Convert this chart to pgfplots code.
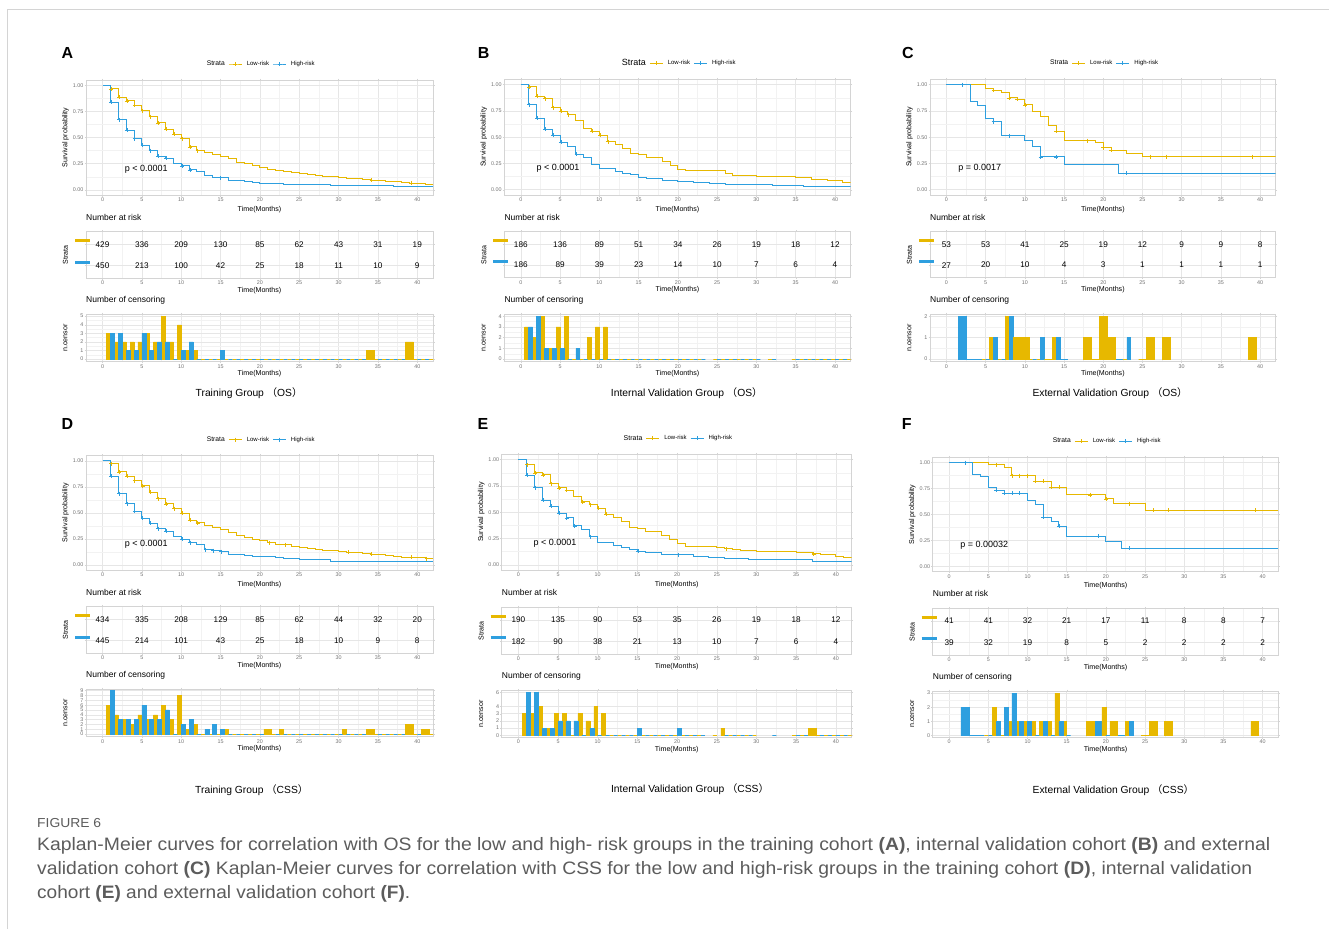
\documentclass[border=0pt]{standalone}
\usepackage{fontspec}
\setmainfont{Liberation Sans}
\newfontfamily\cjk{Noto Sans CJK SC}
\usepackage{graphicx}
\usepackage{pgfplots}
\pgfplotsset{compat=1.18}
\definecolor{yc}{HTML}{E7B800}
\definecolor{bc}{HTML}{2E9FDF}
\definecolor{bord}{HTML}{D4D4D4}
\definecolor{gmaj}{HTML}{E6E6E6}
\definecolor{gmin}{HTML}{F2F2F2}
\definecolor{capc}{HTML}{5C5C5C}
\newcommand{\fs}[1]{\fontsize{#1}{#1}\selectfont}
\pgfplotsset{
  ggbase/.style={
    scale only axis, anchor=north west,
    axis line style={draw=bord, line width=0.6pt},
    grid=both,
    major grid style={draw=gmaj, line width=0.5pt},
    minor grid style={draw=gmin, line width=0.35pt},
    tick align=outside, major tick length=1.5pt, minor tick length=0pt,
    major tick style={draw=bord, line width=0.4pt},
    /pgf/number format/assume math mode=true,
    tick label style={font=\fs{5.4}, text opacity=0.55},
    xticklabel style={inner sep=1pt},
    yticklabel style={inner sep=1pt},
    xmin=-2.1, xmax=42,
    xtick={0,5,...,40}, minor xtick={2.5,7.5,...,42.5},
    xlabel={Time(Months)},
    label style={font=\fs{7.1}},
    ylabel style={at={([xshift=-20.5pt]axis description cs:0,0.5)}, anchor=center},
  },
  km/.style={ggbase,
    ymin=-0.05, ymax=1.05,
    ytick={0,0.25,0.5,0.75,1}, yticklabels={0.00,0.25,0.50,0.75,1.00},
    minor ytick={0.125,0.375,0.625,0.875},
    ylabel={Survival probability},
    xlabel style={at={([yshift=-14.3pt]axis description cs:0.5,0)}, anchor=center},
    legend columns=-1,
    legend image code/.code={\draw[mark repeat=2,mark phase=2,##1] plot coordinates {(0pt,0pt) (6.5pt,0pt) (13pt,0pt)};},
    legend style={at={([yshift=16pt]axis description cs:0.5,1)}, anchor=center, fill=none, draw=none, inner sep=0pt, font=\fs{6},
      /tikz/every even column/.append style={column sep=1.5pt},
      /tikz/every odd column/.append style={column sep=2.5pt}},
  },
  risk/.style={ggbase,
    clip=false,
    ymin=0.4, ymax=2.6, ytick={1,2},
    yticklabels={,,},
    ylabel={Strata},
    xlabel style={at={([yshift=-12.4pt]axis description cs:0.5,0)}, anchor=center},
    title={Number at risk},
    title style={at={([yshift=8.4pt]axis description cs:0,1)}, anchor=west, inner sep=0pt, font=\fs{8.5}},
  },
  cens/.style={ggbase,
    minor y tick num=1,
    ylabel={n.censor},
    xlabel style={at={([yshift=-12.3pt]axis description cs:0.5,0)}, anchor=center},
    title={Number of censoring},
    title style={at={([yshift=8pt]axis description cs:0,1)}, anchor=west, inner sep=0pt, font=\fs{8.5}},
  },
}
\newcommand{\kmY}[1]{\addplot[const plot, draw=yc, line width=0.9pt, forget plot] coordinates {#1};}
\newcommand{\kmB}[1]{\addplot[const plot, draw=bc, line width=0.9pt, forget plot] coordinates {#1};}
\newcommand{\mkY}[1]{\addplot[only marks, mark=+, mark size=2pt, draw=yc, line width=0.6pt, forget plot] coordinates {#1};}
\newcommand{\mkB}[1]{\addplot[only marks, mark=+, mark size=2pt, draw=bc, line width=0.6pt, forget plot] coordinates {#1};}
\newcommand{\cb}[3]{\addplot[ybar, bar width=#1, bar shift=0pt, fill=#2, draw=#2, line width=0.5pt, forget plot] coordinates {#3};}
\newcommand{\rk}[1]{\addplot[draw=none, mark=none, forget plot, nodes near coords, point meta=explicit symbolic, nodes near coords align={center}, every node near coord/.append style={font=\fs{8.2}, inner sep=0pt}] coordinates {#1};
 \draw[draw=yc, line width=3pt] ([xshift=-11pt,yshift=3.5pt]axis cs:-2.1,2) -- ([xshift=4pt,yshift=3.5pt]axis cs:-2.1,2);
 \draw[draw=bc, line width=3pt] ([xshift=-11pt,yshift=3.5pt]axis cs:-2.1,1) -- ([xshift=4pt,yshift=3.5pt]axis cs:-2.1,1);}
\newcommand{\leg}[2]{\addlegendimage{empty legend}\addlegendentry{\fs{#1}Strata}%
 \addlegendimage{draw=yc, line width=0.9pt, mark=+, mark size=2pt}\addlegendentry{\fs{#2}Low-risk}%
 \addlegendimage{draw=bc, line width=0.9pt, mark=+, mark size=2pt}\addlegendentry{\fs{#2}High-risk}}
\newcommand{\pv}[3]{\node[anchor=west, font=\fs{9}, inner sep=0pt] at (axis cs:#1,#2) {#3};}
\begin{document}
\begin{tikzpicture}
\useasboundingbox (0,0) rectangle (1329pt,-929pt);
\fill[fill=white] (0,0) rectangle (1329pt,-929pt);
\draw[draw=bord, line width=0.8pt] (7.5pt,-929pt) -- (7.5pt,-9.7pt) -- (1329pt,-9.7pt);
% panel letters
\foreach \l/\x/\y in {A/67.5/52.5, B/483.7/52.5, C/907.8/52.5, D/67.5/424, E/483/424, F/906.7/424}
  \node[font=\fs{16}\bfseries] at (\x pt,-\y pt) {\l};
% ================= F =================
\begin{axis}[km, at={(932.7pt,-457.3pt)}, width=345.6pt, height=114.4pt]
\leg{6.75}{6}
\kmY{(0,1) (5,0.978) (7,0.952) (8,0.873) (11,0.819) (13,0.762) (15,0.689) (20,0.65) (21,0.603) (25,0.543) (42,0.543)}
\kmB{(0,1) (3,0.889) (4,0.87) (5,0.756) (6,0.733) (7,0.705) (10,0.635) (11,0.594) (12,0.476) (13,0.429) (14,0.387) (15,0.292) (20,0.238) (22,0.175) (42,0.175)}
\mkY{(6,0.978) (8,0.873) (9,0.873) (10,0.873) (11,0.819) (12,0.819) (13,0.762) (14,0.762) (18,0.689) (20,0.65) (23,0.603) (26,0.543) (28,0.543) (39,0.543)}
\mkB{(2,1) (6,0.733) (7,0.705) (8,0.705) (9,0.705) (12,0.476) (14,0.387) (19,0.292) (23,0.175)}
\pv{1.4}{0.2}{p = 0.00032}
\end{axis}
\begin{axis}[risk, at={(932.7pt,-608.3pt)}, width=345.6pt, height=46.7pt]
\rk{(0,2)[41] (5,2)[41] (10,2)[32] (15,2)[21] (20,2)[17] (25,2)[11] (30,2)[8] (35,2)[8] (40,2)[7]
(0,1)[39] (5,1)[32] (10,1)[19] (15,1)[8] (20,1)[5] (25,1)[2] (30,1)[2] (35,1)[2] (40,1)[2]}
\end{axis}
\begin{axis}[cens, at={(932.7pt,-691pt)}, width=345.6pt, height=46.3pt, ymin=-0.12, ymax=3.15, ytick={0,1,2,3}]
\cb{1}{bc}{(2,2)(3,0)(4,0)(19,1)(22,0)}
\cb{0.5}{yc}{(4.75,0)(5.75,2)(6.75,0)(7.75,1)(8.75,1)(9.75,1)(10.75,1)(11.75,1)(12.75,1)(13.75,3)(14.75,1)(19.75,2)(22.75,1)}
\cb{0.5}{bc}{(5.25,0)(6.25,1)(7.25,2)(8.25,3)(9.25,1)(10.25,1)(11.25,0)(12.25,1)(13.25,0)(14.25,1)(15.25,0)(20.25,0)(23.25,1)}
\cb{1}{yc}{(18,1)(21,1)(25,0)(26,1)(28,1)(39,1)}
\end{axis}
% ================= E =================
\begin{axis}[km, at={(501.7pt,-454.3pt)}, width=350pt, height=115.7pt]
\leg{7}{6}
\kmY{(0,1) (1,0.953) (2,0.873) (3,0.854) (4,0.772) (5,0.731) (6,0.709) (7,0.646) (8,0.598) (9,0.57) (10,0.538) (11,0.48) (12,0.45) (13,0.415) (14,0.358) (15,0.348) (16,0.32) (18,0.28) (19,0.237) (20,0.20) (21,0.177) (25,0.168) (26,0.152) (27,0.142) (28,0.136) (30,0.13) (35,0.114) (37,0.104) (38,0.095) (40,0.082) (41,0.066) (42,0.066)}
\kmB{(0,1) (1,0.85) (2,0.734) (3,0.614) (4,0.554) (5,0.49) (6,0.446) (7,0.37) (8,0.332) (9,0.266) (10,0.215) (11,0.209) (12,0.187) (13,0.165) (14,0.146) (15,0.127) (16,0.117) (18,0.10) (20,0.095) (22,0.082) (24,0.07) (26,0.06) (29,0.054) (32,0.047) (37,0.035) (42,0.035)}
\mkY{(1.1,0.953) (2.1,0.873) (3.1,0.854) (4.1,0.772) (5.1,0.731) (6.1,0.709) (8.1,0.598) (9.1,0.57) (10.1,0.538) (11.1,0.48) (26.2,0.152) (37.2,0.104)}
\mkB{(1.1,0.85) (2.1,0.734) (3.1,0.614) (4.1,0.554) (5.1,0.49) (6.1,0.446) (7.1,0.37) (9.1,0.266) (15.1,0.127) (20.2,0.095)}
\pv{1.9}{0.2}{p < 0.0001}
\end{axis}
\begin{axis}[risk, at={(501.7pt,-607.3pt)}, width=350pt, height=47pt]
\rk{(0,2)[190] (5,2)[135] (10,2)[90] (15,2)[53] (20,2)[35] (25,2)[26] (30,2)[19] (35,2)[18] (40,2)[12]
(0,1)[182] (5,1)[90] (10,1)[38] (15,1)[21] (20,1)[13] (25,1)[10] (30,1)[7] (35,1)[6] (40,1)[4]}
\end{axis}
\begin{axis}[cens, at={(501.7pt,-690.7pt)}, width=350pt, height=46.6pt, ymin=-0.28, ymax=6.2, ytick={0,1,2,3,4,6}]
\cb{0.5}{yc}{(0.75,3)(1.75,3)(2.75,4)(3.75,1)(4.75,3)(5.75,3)(6.75,0)(7.75,3)(8.75,2)(9.75,4)(10.75,3)(11.75,0)(12.75,0)(13.75,0)(14.75,0)(15.75,0)(16.75,0)(17.75,0)(18.75,0)(19.75,0)(20.75,0)(21.75,0)(22.75,0)(24.75,0)(25.75,1)(26.75,0)(27.75,0)(28.75,0)(29.75,0)(34.75,0)(35.75,0)(37.75,0)(38.75,0)(39.75,0)(40.75,0)(41.75,0)}
\cb{0.5}{bc}{(1.25,6)(2.25,6)(3.25,1)(4.25,1)(5.25,2)(6.25,2)(7.25,2)(8.25,0)(9.25,1)(10.25,0)(11.25,0)(12.25,0)(13.25,0)(14.25,0)(15.25,1)(16.25,0)(17.25,0)(18.25,0)(19.25,0)(20.25,1)(21.25,0)(22.25,0)(23.25,0)(26.25,0)(27.25,0)(28.25,0)(29.25,0)(32.25,0)(35.25,0)(36.25,0)(38.25,0)(39.25,0)(40.25,0)(41.25,0)}
\cb{1}{yc}{(37,1)}
\end{axis}
% ================= D =================
\begin{axis}[km, at={(86pt,-455.7pt)}, width=347pt, height=114.3pt]
\leg{6.75}{6}
\kmY{(0,1) (1,0.975) (2,0.895) (3,0.85) (4,0.81) (5,0.76) (6,0.70) (7,0.637) (8,0.586) (9,0.54) (10,0.496) (11,0.43) (12,0.404) (13,0.376) (14,0.357) (15,0.344) (16,0.315) (17,0.28) (18,0.264) (19,0.245) (20,0.23) (21,0.213) (22,0.20) (23,0.194) (24,0.18) (25,0.17) (26,0.16) (27,0.15) (28,0.14) (29,0.134) (30,0.127) (31,0.12) (33,0.11) (34,0.10) (35,0.096) (36,0.09) (37,0.08) (38,0.073) (40,0.067) (41,0.06) (42,0.06)}
\kmB{(0,1) (1,0.85) (2,0.685) (3,0.59) (4,0.516) (5,0.45) (6,0.40) (7,0.347) (8,0.325) (9,0.274) (10,0.245) (11,0.213) (12,0.194) (13,0.146) (14,0.137) (15,0.127) (16,0.099) (18,0.092) (19,0.08) (20,0.076) (22,0.067) (23,0.06) (25,0.054) (29,0.035) (36,0.029) (42,0.029)}
\mkY{(1.1,0.975) (2.1,0.895) (3.1,0.85) (4.1,0.81) (5.1,0.76) (6.1,0.70) (7.1,0.637) (8.1,0.586) (9.1,0.54) (10.1,0.496) (11.1,0.43) (12.1,0.404) (21.2,0.213) (23.2,0.194) (31.2,0.12) (34.2,0.10) (39.2,0.073) (41.2,0.06)}
\mkB{(1.1,0.85) (2.1,0.685) (3.1,0.59) (4.1,0.516) (5.1,0.45) (6.1,0.40) (7.1,0.347) (8.1,0.325) (10.1,0.245) (11.1,0.213) (13.1,0.146) (14.1,0.137) (15.1,0.127)}
\pv{2.8}{0.2}{p < 0.0001}
\end{axis}
\begin{axis}[risk, at={(86pt,-606.7pt)}, width=347pt, height=46.6pt]
\rk{(0,2)[434] (5,2)[335] (10,2)[208] (15,2)[129] (20,2)[85] (25,2)[62] (30,2)[44] (35,2)[32] (40,2)[20]
(0,1)[445] (5,1)[214] (10,1)[101] (15,1)[43] (20,1)[25] (25,1)[18] (30,1)[10] (35,1)[9] (40,1)[8]}
\end{axis}
\begin{axis}[cens, at={(86pt,-689pt)}, width=347pt, height=47.7pt, ymin=-0.55, ymax=9.35, ytick={0,1,2,3,4,5,6,7,8,9}, minor y tick num=0]
\cb{0.5}{yc}{(0.75,6)(1.75,4)(2.75,3)(3.75,2)(4.75,4)(5.75,3)(6.75,4)(7.75,6)(8.75,3)(9.75,8)(10.75,1)(11.75,2)(12.75,0)(13.75,0)(14.75,0)(15.75,1)(16.75,0)(17.75,0)(18.75,0)(19.75,0)(21.75,0)(22.75,1)(23.75,0)(24.75,0)(25.75,0)(26.75,0)(27.75,0)(28.75,0)(29.75,0)(30.75,1)(31.75,0)(32.75,0)(34.75,0)(35.75,0)(36.75,0)(37.75,0)(39.75,0)(41.75,0)}
\cb{0.5}{bc}{(1.25,9)(2.25,3)(3.25,3)(4.25,3)(5.25,6)(6.25,3)(7.25,3)(8.25,5)(9.25,0)(10.25,2)(11.25,3)(12.25,0)(13.25,1)(14.25,2)(15.25,1)(16.25,0)(17.25,0)(18.25,0)(19.25,0)(20.25,0)(22.25,0)(23.25,0)(24.25,0)(25.25,0)(26.25,0)(27.25,0)(28.25,0)(29.25,0)(30.25,0)(31.25,0)(32.25,0)(33.25,0)(35.25,0)(36.25,0)(37.25,0)(38.25,0)(40.25,0)}
\cb{1}{yc}{(21,1)(34,1)(39,2)(41,1)}
\end{axis}
% ================= A =================
\begin{axis}[km, at={(86pt,-80pt)}, width=347pt, height=115pt]
\leg{6.75}{6}
\kmY{(0,1) (1,0.965) (2,0.886) (3,0.85) (4,0.807) (5,0.756) (6,0.70) (7,0.64) (8,0.58) (9,0.53) (10,0.49) (11,0.41) (12,0.375) (13,0.355) (14,0.34) (15,0.32) (16,0.30) (17,0.265) (18,0.25) (19,0.235) (20,0.21) (21,0.195) (22,0.185) (23,0.178) (24,0.168) (25,0.158) (26,0.145) (27,0.135) (28,0.13) (29,0.123) (30,0.117) (31,0.11) (32,0.105) (33,0.10) (34,0.093) (35,0.088) (36,0.082) (37,0.075) (38,0.07) (39,0.065) (40,0.058) (41,0.052) (42,0.052)}
\kmB{(0,1) (1,0.84) (2,0.67) (3,0.57) (4,0.49) (5,0.425) (6,0.375) (7,0.32) (8,0.30) (9,0.25) (10,0.228) (11,0.19) (12,0.175) (13,0.133) (14,0.117) (16,0.085) (18,0.076) (19,0.07) (20,0.063) (22,0.057) (23,0.05) (25,0.047) (29,0.038) (37,0.03) (42,0.03)}
\mkY{(1.1,0.965) (2.1,0.886) (3.1,0.85) (4.1,0.807) (5.1,0.756) (6.1,0.70) (7.1,0.64) (8.1,0.58) (9.1,0.53) (10.1,0.49) (11.1,0.41) (12.1,0.375) (34.2,0.093) (39.2,0.065)}
\mkB{(1.1,0.84) (2.1,0.67) (3.1,0.57) (4.1,0.49) (5.1,0.425) (6.1,0.375) (7.1,0.32) (8.1,0.30) (10.1,0.228) (11.1,0.19) (15,0.117)}
\pv{2.8}{0.2}{p < 0.0001}
\end{axis}
\begin{axis}[risk, at={(86pt,-231.7pt)}, width=347pt, height=46.6pt]
\rk{(0,2)[429] (5,2)[336] (10,2)[209] (15,2)[130] (20,2)[85] (25,2)[62] (30,2)[43] (35,2)[31] (40,2)[19]
(0,1)[450] (5,1)[213] (10,1)[100] (15,1)[42] (20,1)[25] (25,1)[18] (30,1)[11] (35,1)[10] (40,1)[9]}
\end{axis}
\begin{axis}[cens, at={(86pt,-314pt)}, width=347pt, height=47.7pt, ymin=-0.3, ymax=5.25, ytick={0,1,2,3,4,5}]
\cb{0.5}{yc}{(0.75,3)(1.75,2)(2.75,2)(3.75,2)(4.75,2)(5.75,3)(6.75,2)(7.75,5)(8.75,2)(9.75,4)(10.75,1)(11.75,1)(12.75,0)(13.75,0)(14.75,0)(15.75,0)(16.75,0)(17.75,0)(18.75,0)(19.75,0)(20.75,0)(21.75,0)(22.75,0)(23.75,0)(24.75,0)(25.75,0)(26.75,0)(27.75,0)(28.75,0)(29.75,0)(30.75,0)(31.75,0)(32.75,0)(34.75,0)(35.75,0)(36.75,0)(37.75,0)(39.75,0)(40.75,0)(41.75,0)}
\cb{0.5}{bc}{(1.25,3)(2.25,3)(3.25,1)(4.25,1)(5.25,3)(6.25,1)(7.25,2)(8.25,2)(9.25,0)(10.25,1)(11.25,2)(12.25,0)(13.25,0)(14.25,0)(15.25,1)(16.25,0)(17.25,0)(18.25,0)(19.25,0)(20.25,0)(21.25,0)(22.25,0)(23.25,0)(24.25,0)(25.25,0)(26.25,0)(27.25,0)(28.25,0)(29.25,0)(30.25,0)(31.25,0)(32.25,0)(33.25,0)(35.25,0)(36.25,0)(37.25,0)(38.25,0)(40.25,0)(41.25,0)}
\cb{1}{yc}{(34,1)(39,2)}
\end{axis}
% ================= B =================
\begin{axis}[km, at={(504.3pt,-79.3pt)}, width=346.4pt, height=115.7pt]
\leg{9}{6}
\kmY{(0,1) (1,0.978) (2,0.89) (3,0.867) (4,0.78) (5,0.747) (6,0.715) (7,0.655) (8,0.585) (9,0.554) (10,0.516) (11,0.456) (12,0.434) (13,0.396) (14,0.345) (15,0.332) (16,0.31) (17,0.304) (18,0.27) (19,0.234) (20,0.196) (21,0.18) (26,0.152) (27,0.14) (28,0.133) (30,0.127) (35,0.114) (37,0.10) (39,0.089) (41,0.07) (42,0.07)}
\kmB{(0,1) (1,0.81) (2,0.68) (3,0.576) (4,0.52) (5,0.45) (6,0.41) (7,0.34) (8,0.304) (9,0.237) (10,0.203) (12,0.174) (13,0.158) (14,0.142) (15,0.12) (16,0.11) (18,0.089) (20,0.076) (22,0.066) (24,0.06) (26,0.054) (29,0.047) (32,0.044) (36,0.032) (42,0.032)}
\mkY{(1.1,0.978) (2.1,0.89) (3.1,0.867) (4.1,0.78) (5.1,0.747) (6.1,0.715) (9.1,0.554) (10.1,0.516) (11.1,0.456)}
\mkB{(1.1,0.81) (2.1,0.68) (3.1,0.576) (4.1,0.52) (5.1,0.45) (7.1,0.34)}
\pv{2.0}{0.2}{p < 0.0001}
\end{axis}
\begin{axis}[risk, at={(504.3pt,-231.7pt)}, width=346.4pt, height=46pt]
\rk{(0,2)[186] (5,2)[136] (10,2)[89] (15,2)[51] (20,2)[34] (25,2)[26] (30,2)[19] (35,2)[18] (40,2)[12]
(0,1)[186] (5,1)[89] (10,1)[39] (15,1)[23] (20,1)[14] (25,1)[10] (30,1)[7] (35,1)[6] (40,1)[4]}
\end{axis}
\begin{axis}[cens, at={(504.3pt,-314pt)}, width=346.4pt, height=47.7pt, ymin=-0.24, ymax=4.2, ytick={0,1,2,3,4}]
\cb{0.5}{yc}{(0.75,3)(1.75,2)(2.75,4)(3.75,1)(4.75,3)(5.75,4)(6.75,0)(7.75,0)(8.75,2)(9.75,3)(10.75,3)(11.75,0)(12.75,0)(13.75,0)(14.75,0)(15.75,0)(16.75,0)(17.75,0)(18.75,0)(19.75,0)(20.75,0)(21.75,0)(22.75,0)(24.75,0)(25.75,0)(26.75,0)(27.75,0)(28.75,0)(29.75,0)(31.75,0)(34.75,0)(35.75,0)(36.75,0)(37.75,0)(38.75,0)(39.75,0)(40.75,0)(41.75,0)}
\cb{0.5}{bc}{(1.25,3)(2.25,4)(3.25,1)(4.25,1)(5.25,1)(6.25,0)(7.25,1)(8.25,0)(9.25,0)(10.25,0)(11.25,0)(12.25,0)(13.25,0)(14.25,0)(15.25,0)(16.25,0)(17.25,0)(18.25,0)(19.25,0)(20.25,0)(21.25,0)(22.25,0)(23.25,0)(25.25,0)(26.25,0)(27.25,0)(28.25,0)(29.25,0)(30.25,0)(32.25,0)(35.25,0)(36.25,0)(37.25,0)(38.25,0)(39.25,0)(40.25,0)(41.25,0)}
\end{axis}
% ================= C =================
\begin{axis}[km, at={(930pt,-79.3pt)}, width=345.7pt, height=115.7pt]
\leg{6.75}{6}
\kmY{(0,1) (5,0.962) (6,0.946) (7,0.924) (8,0.873) (9,0.858) (10,0.807) (11,0.74) (12,0.70) (13,0.614) (14,0.554) (15,0.468) (19,0.45) (20,0.40) (21,0.377) (23,0.342) (25,0.316) (42,0.316)}
\kmB{(0,1) (3,0.842) (4,0.804) (5,0.68) (6,0.646) (7,0.513) (10,0.465) (11,0.41) (12,0.313) (15,0.237) (22,0.158) (42,0.158)}
\mkY{(6,0.946) (8,0.873) (9,0.858) (10,0.807) (14,0.554) (18,0.468) (20,0.40) (21,0.377) (26,0.316) (28,0.316) (39,0.316)}
\mkB{(2,1) (6,0.646) (8,0.513) (12,0.313) (14,0.313) (23,0.158)}
\pv{1.5}{0.2}{p = 0.0017}
\end{axis}
\begin{axis}[risk, at={(930pt,-231.7pt)}, width=345.7pt, height=46pt]
\rk{(0,2)[53] (5,2)[53] (10,2)[41] (15,2)[25] (20,2)[19] (25,2)[12] (30,2)[9] (35,2)[9] (40,2)[8]
(0,1)[27] (5,1)[20] (10,1)[10] (15,1)[4] (20,1)[3] (25,1)[1] (30,1)[1] (35,1)[1] (40,1)[1]}
\end{axis}
\begin{axis}[cens, at={(930pt,-314pt)}, width=345.7pt, height=47.7pt, ymin=-0.12, ymax=2.1, ytick={0,1,2}]
\cb{1}{bc}{(2,2)(3,0)(4,0)(15,0)(22,0)}
\cb{0.5}{yc}{(4.75,0)(5.75,1)(6.75,0)(7.75,2)(10.75,0)(11.75,0)(13.75,1)(22.75,0)}
\cb{0.5}{bc}{(5.25,0)(6.25,1)(7.25,0)(8.25,2)(11.25,0)(12.25,1)(14.25,1)(23.25,1)}
\cb{1}{yc}{(9,1)(10,1)(13,0)(18,1)(19,0)(20,2)(21,1)(25,0)(26,1)(28,1)(39,1)}
\end{axis}
% ================= group titles =================
\node[font=\fs{10.3}] at (249pt,-393.3pt) {Training Group {\cjk （}OS{\cjk ）}};
\node[font=\fs{10.3}] at (686.7pt,-393pt) {Internal Validation Group {\cjk （}OS{\cjk ）}};
\node[font=\fs{10.3}] at (1110pt,-393.3pt) {External Validation Group {\cjk （}OS{\cjk ）}};
\node[font=\fs{10.3}] at (251.7pt,-790pt) {Training Group {\cjk （}CSS{\cjk ）}};
\node[font=\fs{10.3}] at (690pt,-789.3pt) {Internal Validation Group {\cjk （}CSS{\cjk ）}};
\node[font=\fs{10.3}] at (1113.3pt,-790pt) {External Validation Group {\cjk （}CSS{\cjk ）}};
% ================= caption =================
\node[anchor=west, inner sep=0pt, text=capc, font=\fs{13}] at (37pt,-823pt) {\resizebox{64pt}{\height}{FIGURE 6}};
\node[anchor=west, inner sep=0pt, text=capc, font=\fs{18}] at (37pt,-846pt) {\resizebox{1233pt}{\height}{Kaplan-Meier curves for correlation with OS for the low and high- risk groups in the training cohort {\bfseries (A)}, internal validation cohort {\bfseries (B)} and external}};
\node[anchor=west, inner sep=0pt, text=capc, font=\fs{18}] at (37pt,-870pt) {\resizebox{1215pt}{\height}{validation cohort {\bfseries (C)} Kaplan-Meier curves for correlation with CSS for the low and high-risk groups in the training cohort {\bfseries (D)}, internal validation}};
\node[anchor=west, inner sep=0pt, text=capc, font=\fs{18}] at (37pt,-894pt) {\resizebox{373pt}{\height}{cohort {\bfseries (E)} and external validation cohort {\bfseries (F)}.}};
\end{tikzpicture}
\end{document}
